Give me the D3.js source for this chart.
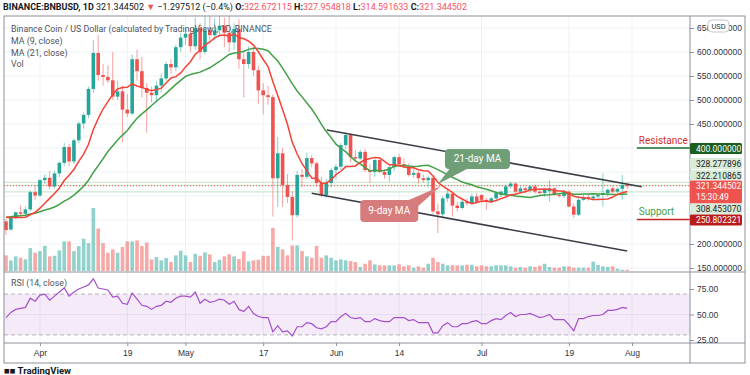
<!DOCTYPE html>
<html>
<head>
<meta charset="utf-8">
<script src="https://cdn.jsdelivr.net/npm/d3@7"></script>
<style>
    body { margin: 0; background: #fff; }
    svg { display: block; font-family: Roboto, "Open Sans", sans-serif; }
</style>
</head>
<body>
<svg id="chart" width="750" height="375"></svg>
<script>
// first candle is 25 Mar 2021, one candle per day
var firstDay = Date.UTC(2021, 2, 25);

// closes before the first visible candle, only used to warm up the moving averages
var preCloses = [229, 236, 245, 255, 256, 264, 268, 259, 270, 268, 254, 259, 264, 260, 268, 265, 262, 257, 253, 245];

var opens = [247, 230, 255, 266, 263, 272, 308, 301, 333, 338, 320, 347, 369, 402, 372, 416, 451, 469, 523, 598,
    552, 548, 541, 507, 518, 480, 472, 585, 560, 525, 515, 510, 530, 545, 575, 568, 610, 630, 638, 612,
    650, 600, 645, 635, 645, 655, 640, 620, 648, 585, 575, 600, 562, 520, 510, 506, 337, 389, 323, 298,
    260, 344, 340, 379, 368, 327, 302, 327, 354, 361, 406, 427, 381, 378, 392, 354, 350, 375, 350, 344,
    360, 381, 366, 362, 344, 348, 337, 333, 338, 268, 262, 295, 305, 280, 275, 288, 285, 299, 302, 292,
    288, 295, 302, 302, 320, 326, 309, 316, 312, 320, 309, 306, 310, 316, 302, 300, 309, 278, 261, 292,
    298, 295, 299, 302, 306, 316, 309, 315, 322.672115];
var highs = [252, 258, 268, 281, 278, 312, 322, 336, 345, 352, 352, 372, 410, 408, 420, 455, 474, 528, 625, 635,
    575, 572, 600, 540, 530, 512, 595, 605, 590, 535, 528, 540, 555, 580, 585, 615, 640, 650, 650, 672,
    660, 680, 675, 670, 675, 672, 695, 660, 668, 600, 612, 610, 572, 535, 530, 512, 423, 400, 346, 310,
    352, 356, 390, 385, 372, 340, 335, 358, 366, 410, 433, 430, 396, 396, 398, 366, 380, 382, 356, 364,
    384, 388, 378, 368, 356, 352, 345, 342, 342, 284, 300, 313, 310, 288, 292, 295, 305, 306, 304, 296,
    298, 310, 312, 324, 330, 328, 320, 320, 322, 324, 316, 315, 333, 318, 306, 312, 312, 284, 300, 302,
    302, 304, 306, 347, 316, 320, 318, 344, 327.954818];
var lows = [219, 228, 252, 258, 260, 268, 292, 298, 325, 314, 316, 340, 362, 362, 366, 410, 440, 462, 515, 540,
    530, 535, 500, 500, 412, 465, 468, 540, 505, 432, 495, 495, 515, 540, 555, 560, 600, 615, 600, 605,
    585, 595, 620, 625, 635, 610, 600, 605, 565, 505, 565, 550, 492, 470, 490, 257, 277, 277, 285, 208,
    255, 318, 336, 360, 320, 298, 296, 318, 335, 355, 398, 370, 372, 375, 350, 328, 340, 348, 336, 330,
    352, 362, 358, 340, 338, 326, 328, 318, 262, 223, 255, 288, 257, 268, 272, 280, 283, 284, 285, 271,
    285, 292, 298, 300, 315, 305, 305, 306, 308, 305, 303, 298, 288, 300, 296, 296, 276, 254, 258, 290,
    290, 290, 292, 278, 298, 305, 306, 292, 314.591633];
var closes = [229, 255, 266, 263, 272, 308, 301, 333, 338, 320, 347, 369, 402, 372, 416, 451, 469, 523, 598, 552,
    548, 541, 507, 518, 480, 472, 585, 560, 525, 515, 510, 530, 545, 575, 568, 610, 630, 638, 612, 650,
    600, 645, 635, 645, 655, 640, 620, 648, 585, 575, 600, 562, 520, 510, 506, 337, 389, 323, 298, 260,
    344, 340, 379, 368, 327, 302, 327, 354, 361, 406, 427, 381, 378, 392, 354, 350, 375, 350, 344, 360,
    381, 366, 362, 344, 348, 337, 333, 338, 268, 262, 295, 305, 280, 275, 288, 285, 299, 288, 292, 288,
    295, 306, 309, 320, 326, 309, 316, 312, 320, 309, 306, 313, 316, 302, 300, 309, 278, 261, 292, 298,
    295, 299, 302, 306, 313, 309, 315, 322.672115, 321.344502];
// volume, relative units
var volumes = [157, 107, 147, 133, 117, 230, 183, 200, 253, 147, 153, 207, 297, 297, 200, 250, 323, 280, 633, 427,
    280, 183, 217, 183, 240, 297, 297, 307, 250, 287, 117, 140, 107, 130, 90, 157, 203, 157, 90, 173,
    153, 187, 167, 90, 113, 147, 167, 147, 120, 197, 97, 107, 113, 153, 153, 433, 243, 217, 157, 257,
    257, 200, 147, 133, 253, 133, 157, 133, 107, 117, 107, 100, 90, 40, 73, 107, 67, 57, 57, 57,
    57, 67, 47, 57, 33, 47, 33, 73, 133, 90, 73, 57, 57, 57, 57, 63, 63, 47, 57, 47,
    47, 57, 57, 57, 47, 33, 40, 33, 47, 40, 53, 73, 40, 33, 33, 47, 47, 33, 33, 33,
    33, 93, 60, 47, 40, 47, 23, 13, 13];
var rsiValues = [47, 52, 55, 56, 57, 66, 63, 69, 70, 64, 68, 72, 76, 68, 72, 75, 77, 79, 85, 76,
    75, 74, 67, 68, 61, 60, 71, 65, 59, 58, 55, 58, 59, 63, 62, 66, 68, 68, 67, 72,
    61, 65, 62, 63, 65, 64, 60, 63, 55, 53, 58, 51, 48, 47, 47, 33, 39, 33, 34, 29,
    38, 38, 42, 41, 37, 36, 38, 43, 43, 48, 51, 47, 46, 47, 43, 43, 46, 44, 43, 43,
    47, 47, 47, 44, 45, 42, 42, 42, 32, 32, 39, 42, 38, 38, 41, 41, 43, 44, 41, 41,
    44, 46, 45, 49, 52, 48, 50, 50, 51, 49, 47, 48, 50, 45, 45, 45, 40, 34, 46, 46,
    48, 49, 49, 50, 54, 54, 55, 57, 56];

var tickDates = ['2021-04-01', '2021-04-19', '2021-05-01', '2021-05-17', '2021-06-01', '2021-06-14', '2021-07-01', '2021-07-19', '2021-08-01'];
var tickLabels = ['Apr', '19', 'May', '17', 'Jun', '14', 'Jul', '19', 'Aug'];
var priceGrid = [150, 200, 250, 300, 350, 400, 450, 500, 550, 600, 650];
var priceLabels = [150, 200, 450, 500, 550, 600, 650];
var rsiTicks = [25, 50, 75];

// levels drawn by the author and the price scale markers
var maLevels = [328.277896, 322.210865, 308.453070];
var lastPrice = 321.344502;
var resistance = 400;
var support = 250.802321;

// hand drawn channel, in date / price
var channelUpper = [['2021-05-30T03:00Z', 437.5], ['2021-08-03T00:00Z', 319.4]];
var channelLower = [['2021-05-27T00:00Z', 305.6], ['2021-07-31T00:00Z', 185.4]];

var svg = d3.select('#chart');

var paneLeft = 4, paneRight = 690, outerRight = 745;
var mainTop = 16, mainBottom = 272, rsiBottom = 343, axisBottom = 363;
var gridColor = '#eef1f6', frameColor = '#8d909a', textColor = '#2f323c';
var upColor = '#26a69a', downColor = '#ef5350';

var days = closes.map(function (c, i) { return d3.utcDay.offset(new Date(firstDay), i); });
var parse = function (s) { return new Date(s.length > 10 ? s : s + 'T00:00Z'); };

var x = d3.scaleUtc().domain([new Date(firstDay), parse('2021-08-01')]).range([6, 632]);
var y = d3.scaleLinear().domain([150, 650]).range([268, 28]);
var yVol = d3.scaleLinear().domain([0, d3.max(volumes)]).range([271, 208]);
var yRsi = d3.scaleLinear().domain([25, 75]).range([340, 289]);

// moving averages over the closes, with the warm-up values in front
var allCloses = preCloses.concat(closes);
var movingAverage = function (n) {
    return closes.map(function (c, i) {
        var end = i + preCloses.length + 1;
        return d3.mean(allCloses.slice(end - n, end));
    });
};
var ma9 = movingAverage(9);
var ma21 = movingAverage(21);

var defs = svg.append('defs');
defs.append('clipPath').attr('id', 'mainClip').append('rect')
    .attr('x', paneLeft).attr('y', mainTop).attr('width', paneRight - paneLeft).attr('height', mainBottom - mainTop);
defs.append('clipPath').attr('id', 'rsiClip').append('rect')
    .attr('x', paneLeft).attr('y', mainTop).attr('width', paneRight - paneLeft).attr('height', rsiBottom - mainTop);

// grid
var grid = svg.append('g');
grid.selectAll('.vgrid').data(tickDates).enter().append('line')
    .attr('x1', function (d) { return x(parse(d)); })
    .attr('x2', function (d) { return x(parse(d)); })
    .attr('y1', mainTop).attr('y2', rsiBottom)
    .attr('stroke', gridColor);
grid.selectAll('.hgrid').data(priceGrid).enter().append('line')
    .attr('x1', paneLeft).attr('x2', paneRight)
    .attr('y1', function (d) { return y(d); })
    .attr('y2', function (d) { return y(d); })
    .attr('stroke', gridColor);
grid.append('line').attr('x1', paneLeft).attr('x2', paneRight)
    .attr('y1', yRsi(50)).attr('y2', yRsi(50)).attr('stroke', gridColor);

var main = svg.append('g').attr('clip-path', 'url(#mainClip)');

// volume
main.selectAll('.vol').data(volumes).enter().append('rect')
    .attr('x', function (d, i) { return x(days[i]) - 1.8; })
    .attr('width', 3.6)
    .attr('y', function (d) { return yVol(d); })
    .attr('height', function (d) { return yVol(0) - yVol(d); })
    .attr('fill', function (d, i) { return closes[i] >= opens[i] ? upColor : downColor; })
    .attr('fill-opacity', 0.5);

// horizontal levels
main.selectAll('.lvl').data(maLevels).enter().append('line')
    .attr('x1', paneLeft).attr('x2', paneRight)
    .attr('y1', function (d) { return y(d); })
    .attr('y2', function (d) { return y(d); })
    .attr('stroke', '#cfe8cf').attr('stroke-width', 1.2);
main.append('line')
    .attr('x1', paneLeft).attr('x2', paneRight)
    .attr('y1', y(lastPrice)).attr('y2', y(lastPrice))
    .attr('stroke', downColor).attr('stroke-dasharray', '1,2');

// candles
var candles = main.selectAll('.candle').data(closes).enter().append('g');
candles.append('line')
    .attr('x1', function (d, i) { return x(days[i]); })
    .attr('x2', function (d, i) { return x(days[i]); })
    .attr('y1', function (d, i) { return y(highs[i]); })
    .attr('y2', function (d, i) { return y(lows[i]); })
    .attr('stroke', function (d, i) { return d >= opens[i] ? upColor : downColor; })
    .attr('stroke-opacity', 0.55);
candles.append('rect')
    .attr('x', function (d, i) { return x(days[i]) - 1.8; })
    .attr('width', 3.6)
    .attr('y', function (d, i) { return y(Math.max(d, opens[i])); })
    .attr('height', function (d, i) { return Math.max(1, Math.abs(y(d) - y(opens[i]))); })
    .attr('fill', function (d, i) { return d >= opens[i] ? upColor : downColor; });

// moving averages
var maLine = function (values) {
    return d3.line()
        .x(function (d, i) { return x(days[i]); })
        .y(function (d) { return y(d); })(values);
};
main.append('path').attr('d', maLine(ma21)).attr('fill', 'none').attr('stroke', '#43a047').attr('stroke-width', 1.5);
main.append('path').attr('d', maLine(ma9)).attr('fill', 'none').attr('stroke', '#f44336').attr('stroke-width', 1.5);

// channel
[channelUpper, channelLower].forEach(function (seg) {
    main.append('line')
        .attr('x1', x(parse(seg[0][0]))).attr('y1', y(seg[0][1]))
        .attr('x2', x(parse(seg[1][0]))).attr('y2', y(seg[1][1]))
        .attr('stroke', '#3a3d46').attr('stroke-width', 1.6);
});

// resistance and support marks
var markStart = parse('2021-08-02');
main.append('line').attr('x1', x(markStart)).attr('x2', paneRight)
    .attr('y1', y(resistance)).attr('y2', y(resistance)).attr('stroke', '#1b6b2a').attr('stroke-width', 1.5);
main.append('line').attr('x1', x(markStart)).attr('x2', paneRight)
    .attr('y1', y(support)).attr('y2', y(support)).attr('stroke', '#c62828').attr('stroke-width', 1.5);
main.append('text').attr('x', x(markStart) + 2).attr('y', y(resistance) - 4)
    .attr('fill', '#d32f2f').attr('font-size', 10).text('Resistance');
main.append('text').attr('x', x(markStart) + 2).attr('y', y(support) - 5)
    .attr('fill', '#43a047').attr('font-size', 10).text('Support');

// callouts pointing at the averages
var callout = function (boxDate, boxPrice, w, h, tail, apexDate, apexPrice, fill, label) {
    var bx = x(parse(boxDate)), by = y(boxPrice);
    var ax = x(parse(apexDate)), ay = y(apexPrice);
    var g = main.append('g');
    g.append('path')
        .attr('d', 'M' + (bx + tail[0]) + ',' + (by + tail[1]) + 'L' + ax + ',' + ay + 'L' + (bx + tail[2]) + ',' + (by + tail[3]) + 'Z')
        .attr('fill', fill);
    g.append('rect').attr('x', bx).attr('y', by).attr('width', w).attr('height', h).attr('rx', 4).attr('fill', fill);
    g.append('text').attr('x', bx + w / 2).attr('y', by + h / 2 + 3.5)
        .attr('text-anchor', 'middle').attr('fill', '#fff').attr('font-size', 10).text(label);
};
callout('2021-06-23T11:00Z', 398, 65, 20, [6, 18, 22, 20], '2021-06-22T00:00Z', 325, '#6f9e77', '21-day MA');
callout('2021-06-06T00:00Z', 291.7, 58, 22, [44, 2, 58, 6], '2021-06-22T15:00Z', 321, '#d77c7c', '9-day MA');

// rsi pane
var rsiG = svg.append('g').attr('clip-path', 'url(#rsiClip)');
rsiG.append('rect').attr('x', paneLeft).attr('width', paneRight - paneLeft)
    .attr('y', yRsi(70)).attr('height', yRsi(30) - yRsi(70))
    .attr('fill', '#a64fc9').attr('fill-opacity', 0.12);
[70, 30].forEach(function (v) {
    rsiG.append('line').attr('x1', paneLeft).attr('x2', paneRight)
        .attr('y1', yRsi(v)).attr('y2', yRsi(v))
        .attr('stroke', '#b3b0bd').attr('stroke-dasharray', '4,3');
});
rsiG.append('path')
    .attr('d', d3.line().x(function (d, i) { return x(days[i]); }).y(function (d) { return yRsi(d); })(rsiValues))
    .attr('fill', 'none').attr('stroke', '#a64fc9').attr('stroke-width', 1.2);

// frame
svg.append('rect').attr('x', paneLeft).attr('y', mainTop)
    .attr('width', outerRight - paneLeft).attr('height', axisBottom - mainTop)
    .attr('fill', 'none').attr('stroke', frameColor);
svg.append('line').attr('x1', paneRight).attr('x2', paneRight).attr('y1', mainTop).attr('y2', axisBottom).attr('stroke', frameColor);
svg.append('line').attr('x1', paneLeft).attr('x2', outerRight).attr('y1', mainBottom).attr('y2', mainBottom).attr('stroke', frameColor);
svg.append('line').attr('x1', paneLeft).attr('x2', outerRight).attr('y1', rsiBottom).attr('y2', rsiBottom).attr('stroke', frameColor);

// price axis
var priceAxis = d3.axisRight(y).tickValues(priceLabels).tickSize(4).tickPadding(3)
    .tickFormat(d3.format('.6f'));
svg.append('g').attr('transform', 'translate(' + paneRight + ',0)').call(priceAxis)
    .call(function (g) {
        g.select('.domain').remove();
        g.selectAll('line').attr('stroke', frameColor);
        g.selectAll('text').attr('fill', textColor).attr('font-size', 8.5);
    });

var rsiAxis = d3.axisRight(yRsi).tickValues(rsiTicks).tickSize(4).tickPadding(3).tickFormat(d3.format('.2f'));
svg.append('g').attr('transform', 'translate(' + paneRight + ',0)').call(rsiAxis)
    .call(function (g) {
        g.select('.domain').remove();
        g.selectAll('line').attr('stroke', frameColor);
        g.selectAll('text').attr('fill', textColor).attr('font-size', 8.5);
    });

// time axis
var timeAxis = d3.axisBottom(x).tickValues(tickDates.map(parse)).tickSize(3).tickPadding(4)
    .tickFormat(function (d, i) { return tickLabels[i]; });
svg.append('g').attr('transform', 'translate(0,' + rsiBottom + ')').call(timeAxis)
    .call(function (g) {
        g.select('.domain').remove();
        g.selectAll('line').attr('stroke', frameColor);
        g.selectAll('text').attr('fill', textColor).attr('font-size', 8.5);
    });

// price scale markers
var marker = function (value, lines, top, h, fill, color) {
    var g = svg.append('g');
    g.append('rect').attr('x', paneRight).attr('y', top).attr('width', 52).attr('height', h).attr('rx', 1.5).attr('fill', fill);
    lines.forEach(function (t, k) {
        g.append('text').attr('x', paneRight + 6).attr('y', top + 8.5 + k * 10.5)
            .attr('fill', color).attr('font-size', 8.5).text(t);
    });
};
var f6 = d3.format('.6f');
marker(resistance, [f6(resistance)], y(resistance) - 5, 11, '#1b5e20', '#fff');
marker(maLevels[0], [f6(maLevels[0])], 158, 11, '#d8ecd9', '#222');
marker(maLevels[1], [f6(maLevels[1])], 170, 10, '#d8ecd9', '#222');
marker(lastPrice, [f6(lastPrice), '15:30:49'], 180.5, 23, '#ef5350', '#fff');
marker(maLevels[2], [f6(maLevels[2])], 203.5, 10.5, '#d8ecd9', '#222');
marker(support, [f6(support)], y(support) - 5, 11, '#b71c1c', '#fff');

// currency badge, drawn over the top price label as in the original
svg.append('rect').attr('x', 708).attr('y', 20).attr('width', 21).attr('height', 12).attr('rx', 4)
    .attr('fill', '#fff').attr('stroke', '#c5c8d0');
svg.append('text').attr('x', 718.5).attr('y', 29).attr('text-anchor', 'middle')
    .attr('font-size', 7.5).attr('fill', textColor).text('USD');

// header
var head = svg.append('text').attr('x', 3).attr('y', 10).attr('font-size', 9).attr('fill', '#131722');
head.append('tspan').attr('font-weight', 'bold').text('BINANCE:BNBUSD, 1D');
head.append('tspan').text('  321.344502 ');
head.append('tspan').attr('fill', downColor).text('▼');
head.append('tspan').text(' \u22121.297512 (\u22120.4%)  ');
[['O:', '322.672115'], ['H:', '327.954818'], ['L:', '314.591633'], ['C:', '321.344502']].forEach(function (p) {
    head.append('tspan').attr('font-weight', 'bold').text(p[0]);
    head.append('tspan').attr('fill', '#f7525f').text(p[1] + ' ');
});

// legend
var legend = ['Binance Coin / US Dollar (calculated by TradingView), 1D, BINANCE', 'MA (9, close)', 'MA (21, close)', 'Vol'];
svg.selectAll('.legend').data(legend).enter().append('text')
    .attr('x', 11)
    .attr('y', function (d, i) { return [31.5, 44, 55.5, 67][i]; })
    .attr('font-size', 8.8).attr('fill', '#50535e')
    .text(function (d) { return d; });
svg.append('text').attr('x', 11).attr('y', 286).attr('font-size', 8.8).attr('fill', '#50535e').text('RSI (14, close)');

// footer logo
svg.append('text').attr('x', 4).attr('y', 374).attr('font-size', 9.5).attr('font-weight', 'bold')
    .attr('fill', '#131722').text('\u25A0\u25A0 TradingView');
</script>
</body>
</html>
